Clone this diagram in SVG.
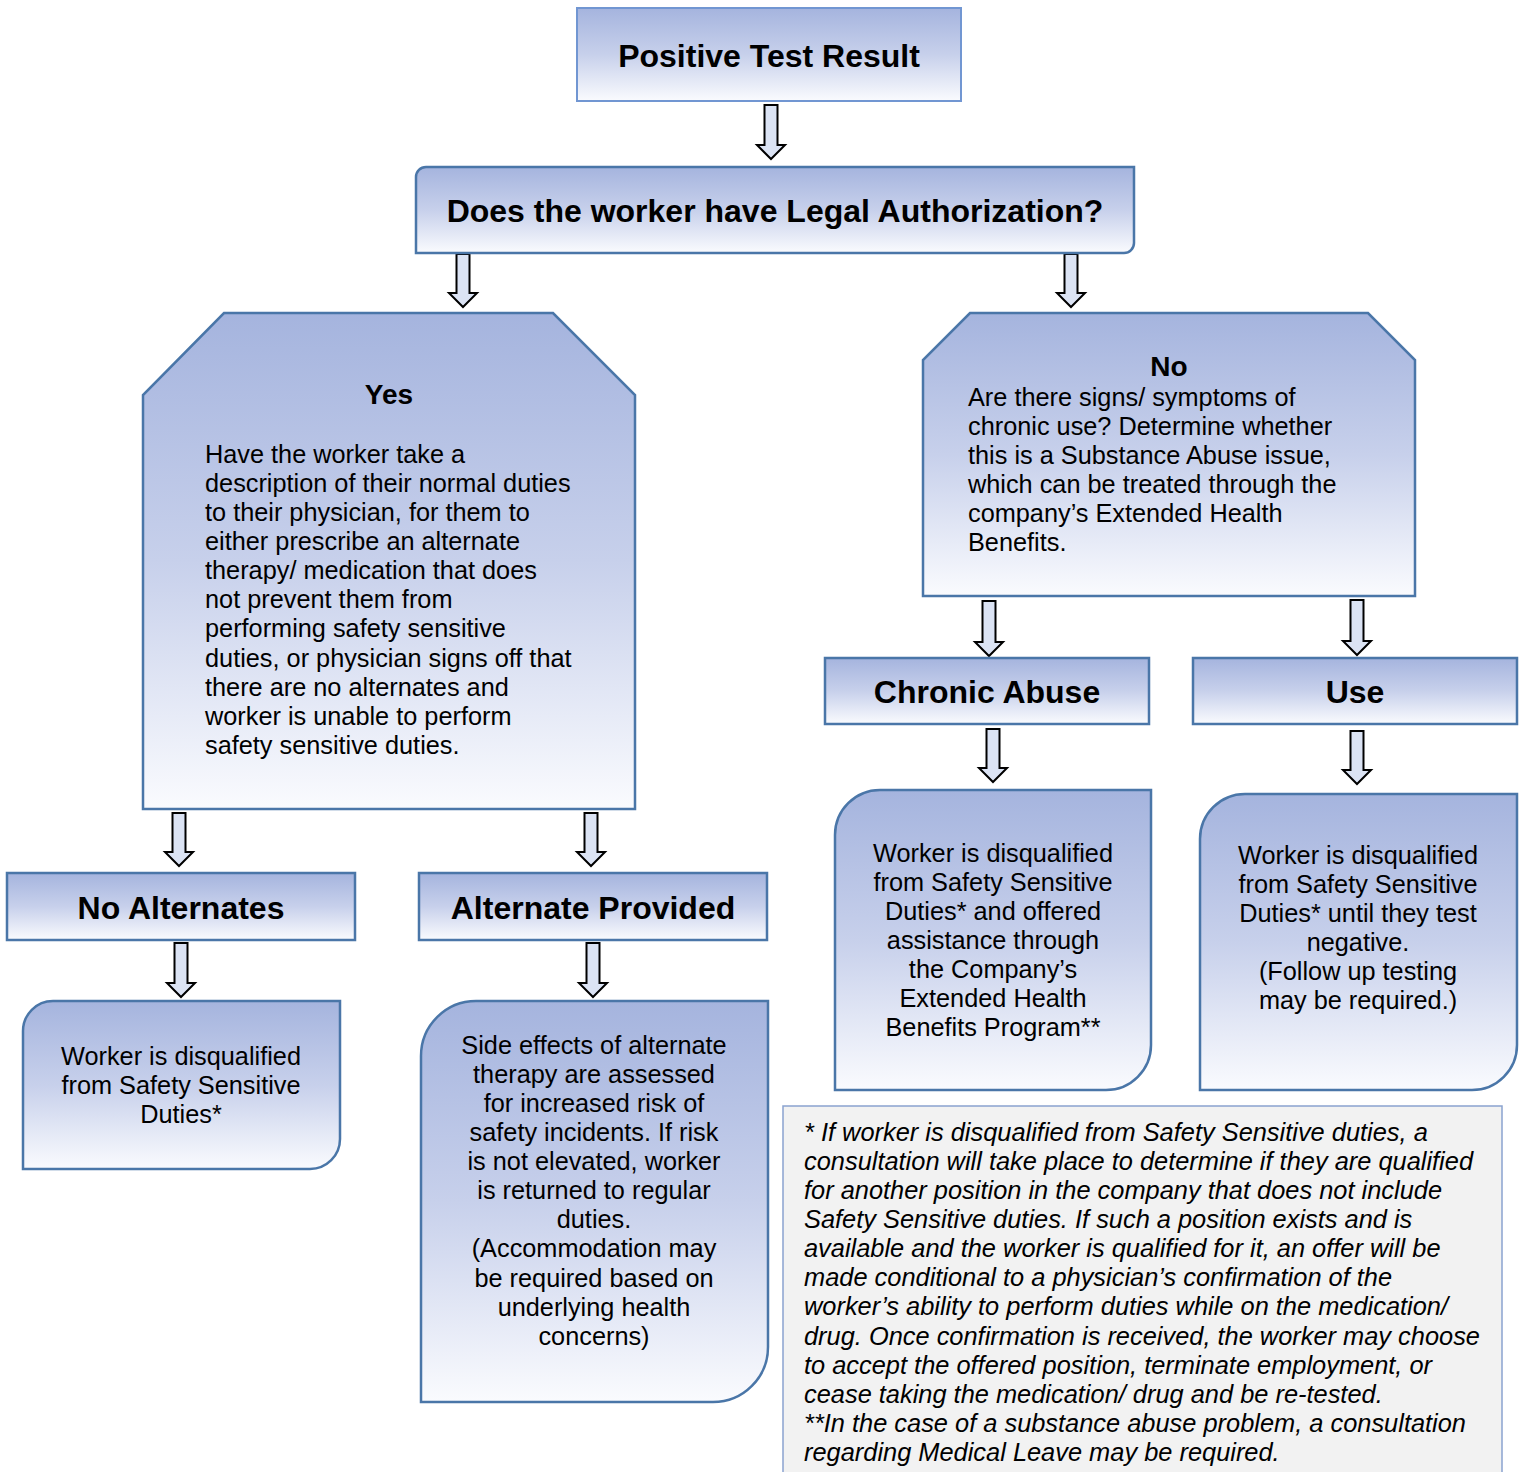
<svg xmlns="http://www.w3.org/2000/svg" width="1523" height="1472" viewBox="0 0 1523 1472">
<defs>
<linearGradient id="g" x1="0" y1="0" x2="0" y2="1">
<stop offset="0" stop-color="#a5b4de"/>
<stop offset="0.5" stop-color="#c7d0eb"/>
<stop offset="1" stop-color="#fafbfe"/>
</linearGradient>
<style>
.box{fill:url(#g);stroke:#4a76a8;stroke-width:2.5}
.box1{fill:url(#g);stroke:#7196d2;stroke-width:2}
.arr{fill:#dbe3f4;stroke:#000;stroke-width:2;stroke-linejoin:miter}
.h{font-family:"Liberation Sans",Arial,sans-serif;font-weight:bold;font-size:32px;fill:#000;text-anchor:middle}
.h2{font-family:"Liberation Sans",Arial,sans-serif;font-weight:bold;font-size:28px;fill:#000;text-anchor:middle}
.t{font-family:"Liberation Sans",Arial,sans-serif;font-size:25.3px;fill:#000}
.c{text-anchor:middle}
.note{font-family:"Liberation Sans",Arial,sans-serif;font-size:25.4px;font-style:italic;fill:#000}
</style>
</defs>
<rect width="1523" height="1472" fill="#fff"/>

<g id="connectors">
<path class="arr" d="M764.5 105H777.5V145H785L771 159L757 145H764.5Z"/>
<path class="arr" d="M456.5 254H469.5V293H477L463 307L449 293H456.5Z"/>
<path class="arr" d="M1064.5 254H1077.5V293H1085L1071 307L1057 293H1064.5Z"/>
<path class="arr" d="M172.5 813H185.5V852H193L179 866L165 852H172.5Z"/>
<path class="arr" d="M584.5 813H597.5V852H605L591 866L577 852H584.5Z"/>
<path class="arr" d="M982.5 601H995.5V642H1003L989 656L975 642H982.5Z"/>
<path class="arr" d="M1350.5 600H1363.5V641H1371L1357 655L1343 641H1350.5Z"/>
<path class="arr" d="M174.5 943H187.5V983H195L181 997L167 983H174.5Z"/>
<path class="arr" d="M586.5 943H599.5V983H607L593 997L579 983H586.5Z"/>
<path class="arr" d="M986.5 729H999.5V768H1007L993 782L979 768H986.5Z"/>
<path class="arr" d="M1350.5 731H1363.5V770H1371L1357 784L1343 770H1350.5Z"/>
</g>

<g id="positive">
<rect class="box1" x="577" y="8" width="384" height="93"/>
<text class="h" x="769" y="67">Positive Test Result</text>
</g>

<g id="question">
<path class="box" d="M426 167H1134V243A10 10 0 0 1 1124 253H416V177A10 10 0 0 1 426 167Z"/>
<text class="h" x="775" y="222">Does the worker have Legal Authorization?</text>
</g>

<g id="yes">
<path class="box" d="M224 313H553L635 395V809H143V395Z"/>
<text class="h2" x="389" y="404">Yes</text>
<text class="t"><tspan x="205" y="463">Have the worker take a</tspan><tspan x="205" y="492">description of their normal duties</tspan><tspan x="205" y="521">to their physician, for them to</tspan><tspan x="205" y="550">either prescribe an alternate</tspan><tspan x="205" y="579">therapy/ medication that does</tspan><tspan x="205" y="608">not prevent them from</tspan><tspan x="205" y="637">performing safety sensitive</tspan><tspan x="205" y="667">duties, or physician signs off that</tspan><tspan x="205" y="696">there are no alternates and</tspan><tspan x="205" y="725">worker is unable to perform</tspan><tspan x="205" y="754">safety sensitive duties.</tspan></text>
</g>

<g id="no">
<path class="box" d="M970 313H1368L1415 360V596H923V360Z"/>
<text class="h2" x="1169" y="376">No</text>
<text class="t"><tspan x="968" y="406">Are there signs/ symptoms of</tspan><tspan x="968" y="435">chronic use? Determine whether</tspan><tspan x="968" y="464">this is a Substance Abuse issue,</tspan><tspan x="968" y="493">which can be treated through the</tspan><tspan x="968" y="522">company’s Extended Health</tspan><tspan x="968" y="551">Benefits.</tspan></text>
</g>

<g id="no-alternates">
<rect class="box" x="7" y="873" width="348" height="67"/>
<text class="h" x="181" y="919">No Alternates</text>
</g>

<g id="alternate-provided">
<rect class="box" x="419" y="873" width="348" height="67"/>
<text class="h" x="593" y="919">Alternate Provided</text>
</g>

<g id="chronic-abuse">
<rect class="box" x="825" y="658" width="324" height="66"/>
<text class="h" x="987" y="703">Chronic Abuse</text>
</g>

<g id="use">
<rect class="box" x="1193" y="658" width="324" height="66"/>
<text class="h" x="1355" y="703">Use</text>
</g>

<g id="no-alt-result">
<path class="box" d="M53 1001H340V1139A30 30 0 0 1 310 1169H23V1031A30 30 0 0 1 53 1001Z"/>
<text class="t c"><tspan x="181" y="1065">Worker is disqualified</tspan><tspan x="181" y="1094">from Safety Sensitive</tspan><tspan x="181" y="1123">Duties*</tspan></text>
</g>

<g id="alt-result">
<path class="box" d="M476 1001H768V1347A55 55 0 0 1 713 1402H421V1056A55 55 0 0 1 476 1001Z"/>
<text class="t c"><tspan x="594" y="1054">Side effects of alternate</tspan><tspan x="594" y="1083">therapy are assessed</tspan><tspan x="594" y="1112">for increased risk of</tspan><tspan x="594" y="1141">safety incidents. If risk</tspan><tspan x="594" y="1170">is not elevated, worker</tspan><tspan x="594" y="1199">is returned to regular</tspan><tspan x="594" y="1228">duties.</tspan><tspan x="594" y="1257">(Accommodation may</tspan><tspan x="594" y="1287">be required based on</tspan><tspan x="594" y="1316">underlying health</tspan><tspan x="594" y="1345">concerns)</tspan></text>
</g>

<g id="chronic-result">
<path class="box" d="M880 790H1151V1045A45 45 0 0 1 1106 1090H835V835A45 45 0 0 1 880 790Z"/>
<text class="t c"><tspan x="993" y="862">Worker is disqualified</tspan><tspan x="993" y="891">from Safety Sensitive</tspan><tspan x="993" y="920">Duties* and offered</tspan><tspan x="993" y="949">assistance through</tspan><tspan x="993" y="978">the Company’s</tspan><tspan x="993" y="1007">Extended Health</tspan><tspan x="993" y="1036">Benefits Program**</tspan></text>
</g>

<g id="use-result">
<path class="box" d="M1245 794H1517V1045A45 45 0 0 1 1472 1090H1200V839A45 45 0 0 1 1245 794Z"/>
<text class="t c"><tspan x="1358" y="864">Worker is disqualified</tspan><tspan x="1358" y="893">from Safety Sensitive</tspan><tspan x="1358" y="922">Duties* until they test</tspan><tspan x="1358" y="951">negative.</tspan><tspan x="1358" y="980">(Follow up testing</tspan><tspan x="1358" y="1009">may be required.)</tspan></text>
</g>

<g id="footnote">
<rect x="783" y="1106" width="719" height="380" fill="#f2f2f2" stroke="#8aa3cf" stroke-width="1.5"/>
<text class="note"><tspan x="804" y="1141">* If worker is disqualified from Safety Sensitive duties, a</tspan><tspan x="804" y="1170">consultation will take place to determine if they are qualified</tspan><tspan x="804" y="1199">for another position in the company that does not include</tspan><tspan x="804" y="1228">Safety Sensitive duties. If such a position exists and is</tspan><tspan x="804" y="1257">available and the worker is qualified for it, an offer will be</tspan><tspan x="804" y="1286">made conditional to a physician’s confirmation of the</tspan><tspan x="804" y="1315">worker’s ability to perform duties while on the medication/</tspan><tspan x="804" y="1345">drug. Once confirmation is received, the worker may choose</tspan><tspan x="804" y="1374">to accept the offered position, terminate employment, or</tspan><tspan x="804" y="1403">cease taking the medication/ drug and be re-tested.</tspan><tspan x="804" y="1432">**In the case of a substance abuse problem, a consultation</tspan><tspan x="804" y="1461">regarding Medical Leave may be required.</tspan></text>
</g>
</svg>
